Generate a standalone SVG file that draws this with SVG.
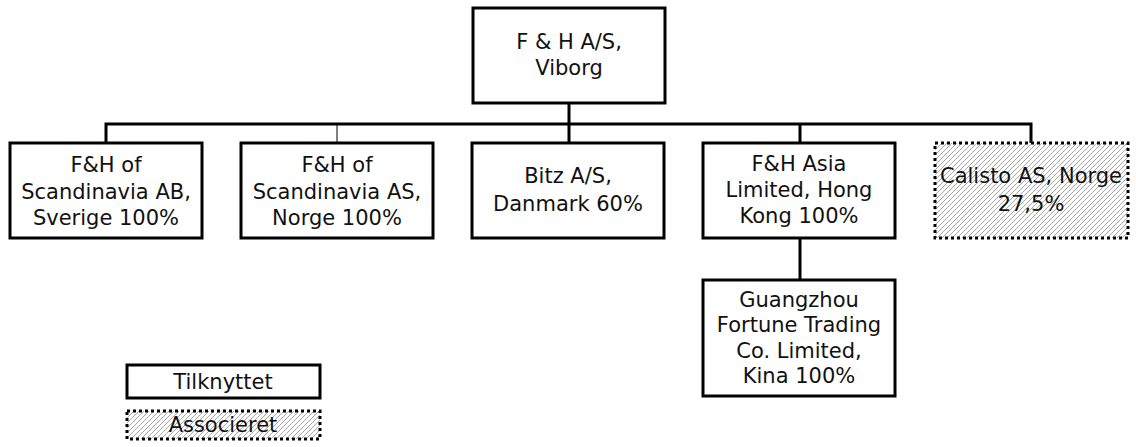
<svg xmlns="http://www.w3.org/2000/svg" width="1136" height="447" viewBox="0 0 1136 447">
<style>
.box{fill:#fff;stroke:#000;stroke-width:3}
.assoc{fill:url(#hatch);stroke:#000;stroke-width:3;stroke-dasharray:3 3}
.t{font-family:"DejaVu Sans",Verdana,sans-serif;font-size:21px;fill:#111;text-anchor:middle}
.c{stroke:#000;stroke-width:3;fill:none}
.thin{stroke:#000;stroke-width:1;fill:none}
</style>
<defs>
<pattern id="hatch" patternUnits="userSpaceOnUse" width="5" height="5">
<rect width="5" height="5" fill="#fff"/>
<path d="M0,5 L5,0 M-1,1 L1,-1 M4,6 L6,4" stroke="#a8a8a8" stroke-width="1"/>
</pattern>
</defs>
<rect width="1136" height="447" fill="#fff"/>
<g id="connectors">
<path class="c" d="M569,103 V143"/>
<path class="c" d="M106,143 V124 H1031 V143"/>
<path class="thin" d="M337,124 V143"/>
<path class="c" d="M800,124 V143"/>
<path class="c" d="M800,238 V280"/>
</g>
<g id="n-fh">
<rect class="box" x="473" y="8" width="192" height="95"/>
<text class="t" x="569" y="49">F &amp; H A/S,</text>
<text class="t" x="569" y="75">Viborg</text>
</g>
<g id="n-se">
<rect class="box" x="10" y="143" width="192" height="95"/>
<text class="t" x="106" y="172">F&amp;H of</text>
<text class="t" x="106" y="199">Scandinavia AB,</text>
<text class="t" x="106" y="225">Sverige 100%</text>
</g>
<g id="n-no">
<rect class="box" x="241" y="143" width="192" height="95"/>
<text class="t" x="337" y="172">F&amp;H of</text>
<text class="t" x="337" y="199">Scandinavia AS,</text>
<text class="t" x="337" y="225">Norge 100%</text>
</g>
<g id="n-bitz">
<rect class="box" x="472" y="143" width="192" height="95"/>
<text class="t" x="568" y="183">Bitz A/S,</text>
<text class="t" x="568" y="211">Danmark 60%</text>
</g>
<g id="n-asia">
<rect class="box" x="703" y="143" width="192" height="95"/>
<text class="t" x="799" y="171">F&amp;H Asia</text>
<text class="t" x="799" y="197">Limited, Hong</text>
<text class="t" x="799" y="223">Kong 100%</text>
</g>
<g id="n-calisto">
<rect class="assoc" x="935" y="143" width="193" height="95"/>
<text class="t" x="1031" y="183">Calisto AS, Norge</text>
<text class="t" x="1031" y="211">27,5%</text>
</g>
<g id="n-gz">
<rect class="box" x="703" y="280" width="192" height="116"/>
<text class="t" x="799" y="307">Guangzhou</text>
<text class="t" x="799" y="332">Fortune Trading</text>
<text class="t" x="799" y="358">Co. Limited,</text>
<text class="t" x="799" y="383">Kina 100%</text>
</g>
<g id="legend-tilknyttet">
<rect class="box" x="127" y="365" width="193" height="33"/>
<text class="t" x="223" y="389">Tilknyttet</text>
</g>
<g id="legend-associeret">
<rect class="assoc" x="127" y="411" width="193" height="28"/>
<text class="t" x="223" y="432">Associeret</text>
</g>
</svg>
